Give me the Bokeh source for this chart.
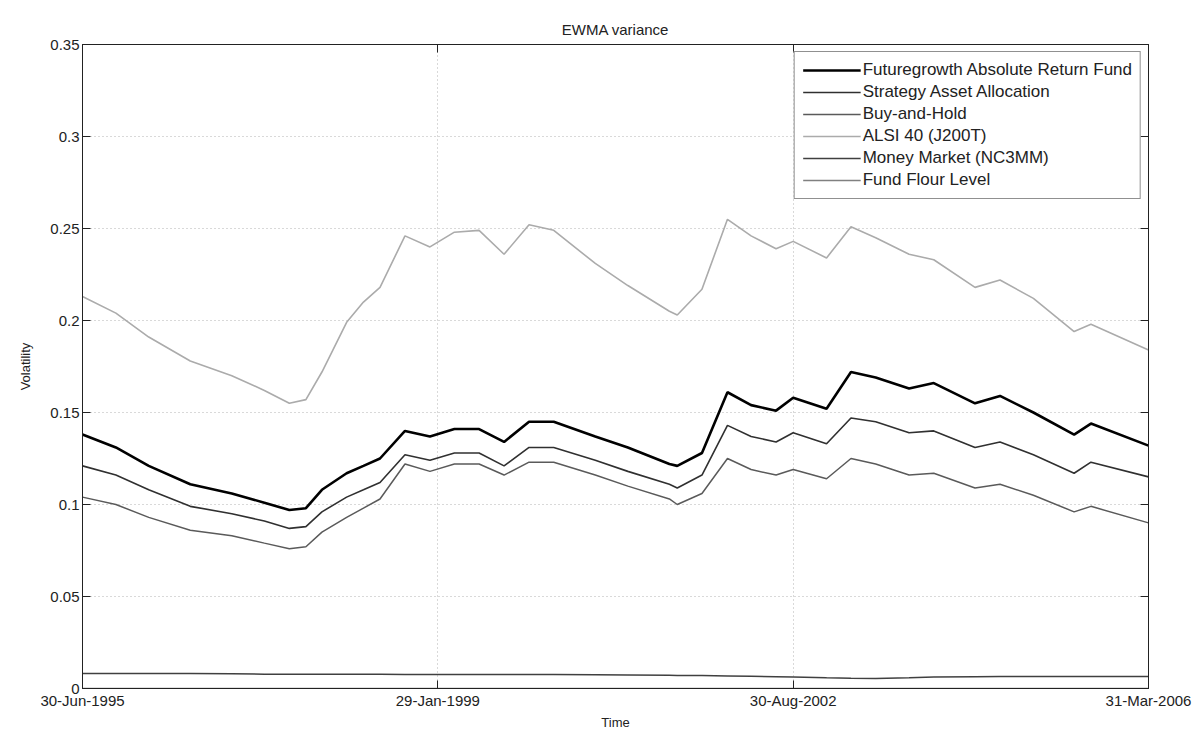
import pandas as pd
from bokeh.plotting import figure
from bokeh.models import (FixedTicker, CustomJSTickFormatter, LinearAxis, DatetimeAxis,
                          Legend, LegendItem, Range1d)
from bokeh.embed import file_html
from bokeh.resources import INLINE

# ---------------- data ----------------
dates = ["1995-06-30", "1995-10-31", "1996-02-29", "1996-07-31", "1996-12-31", "1997-04-30",
         "1997-07-31", "1997-09-30", "1997-11-28", "1998-02-27", "1998-04-30", "1998-06-30",
         "1998-09-30", "1998-12-31", "1999-03-31", "1999-06-30", "1999-09-30", "1999-12-31",
         "2000-03-31", "2000-08-31", "2000-12-29", "2001-05-31", "2001-06-29", "2001-09-28",
         "2001-12-31", "2002-03-28", "2002-06-28", "2002-08-30", "2002-12-31", "2003-03-31",
         "2003-06-30", "2003-10-31", "2004-01-30", "2004-06-30", "2004-09-30", "2005-01-31",
         "2005-06-30", "2005-08-31", "2006-03-31"]

futuregrowth = [0.138, 0.131, 0.121, 0.111, 0.106, 0.101, 0.097, 0.098, 0.108, 0.117, 0.121, 0.125,
                0.140, 0.137, 0.141, 0.141, 0.134, 0.145, 0.145, 0.137, 0.131, 0.122, 0.121, 0.128,
                0.161, 0.154, 0.151, 0.158, 0.152, 0.172, 0.169, 0.163, 0.166, 0.155, 0.159, 0.150,
                0.138, 0.144, 0.132]
strategy = [0.121, 0.116, 0.108, 0.099, 0.095, 0.091, 0.087, 0.088, 0.096, 0.104, 0.108, 0.112,
            0.127, 0.124, 0.128, 0.128, 0.121, 0.131, 0.131, 0.124, 0.118, 0.111, 0.109, 0.116,
            0.143, 0.137, 0.134, 0.139, 0.133, 0.147, 0.145, 0.139, 0.140, 0.131, 0.134, 0.127,
            0.117, 0.123, 0.115]
buy_hold = [0.104, 0.100, 0.093, 0.086, 0.083, 0.079, 0.076, 0.077, 0.085, 0.093, 0.098, 0.103,
            0.122, 0.118, 0.122, 0.122, 0.116, 0.123, 0.123, 0.116, 0.110, 0.103, 0.100, 0.106,
            0.125, 0.119, 0.116, 0.119, 0.114, 0.125, 0.122, 0.116, 0.117, 0.109, 0.111, 0.105,
            0.096, 0.099, 0.090]
alsi40 = [0.213, 0.204, 0.191, 0.178, 0.170, 0.162, 0.155, 0.157, 0.172, 0.199, 0.210, 0.218,
          0.246, 0.240, 0.248, 0.249, 0.236, 0.252, 0.249, 0.231, 0.219, 0.205, 0.203, 0.217,
          0.255, 0.246, 0.239, 0.243, 0.234, 0.251, 0.245, 0.236, 0.233, 0.218, 0.222, 0.212,
          0.194, 0.198, 0.184]
money_market = [0.0082, 0.0082, 0.0081, 0.0081, 0.0080, 0.0078, 0.0077, 0.0077, 0.0077, 0.0077,
                0.0077, 0.0077, 0.0076, 0.0076, 0.0076, 0.0076, 0.0076, 0.0076, 0.0076, 0.0075,
                0.0074, 0.0072, 0.0071, 0.0070, 0.0068, 0.0066, 0.0064, 0.0062, 0.0058, 0.0056,
                0.0055, 0.0058, 0.0062, 0.0064, 0.0065, 0.0065, 0.0065, 0.0065, 0.0065]
fund_floor = [0.0] * len(dates)

series_names = ["Futuregrowth Absolute Return Fund", "Strategy Asset Allocation", "Buy-and-Hold",
                "ALSI 40 (J200T)", "Money Market (NC3MM)", "Fund Flour Level"]

x_tick_dates = ["1995-06-30", "1999-01-29", "2002-08-30", "2006-03-31"]
x_tick_labels = ["30-Jun-1995", "29-Jan-1999", "30-Aug-2002", "31-Mar-2006"]
y_ticks = [0, 0.05, 0.1, 0.15, 0.2, 0.25, 0.3, 0.35]

# ---------------- figure ----------------
FONT = "Liberation Sans"
INK = "#222222"
x = pd.to_datetime(dates)
x_ticks = [float(pd.Timestamp(d).value // 10**6) for d in x_tick_dates]

p = figure(width=1196, height=732, x_axis_type="datetime", output_backend="svg",
           toolbar_location=None,
           x_range=Range1d(pd.Timestamp(x_tick_dates[0]), pd.Timestamp(x_tick_dates[-1])),
           y_range=Range1d(0, 0.35),
           min_border_left=82, min_border_right=48, min_border_top=44, min_border_bottom=40)

p.title.text = "EWMA variance"
p.title.align = "center"
p.title.text_font = FONT
p.title.text_font_size = "15px"
p.title.text_font_style = "normal"
p.title.text_color = INK
p.title.standoff = 13

p.outline_line_color = INK
p.background_fill_color = "white"

# x axis
p.xaxis.ticker = FixedTicker(ticks=x_ticks)
p.xaxis.major_label_overrides = {t: l for t, l in zip(x_ticks, x_tick_labels)}
p.xaxis.axis_label = "Time"
# y axis
p.yaxis.ticker = FixedTicker(ticks=y_ticks)
p.yaxis.formatter = CustomJSTickFormatter(code="return String(Math.round(tick*100)/100);")
p.yaxis.axis_label = "Volatility"

for ax in p.xaxis + p.yaxis:
    ax.major_tick_in = 8
    ax.major_tick_out = 0
    ax.minor_tick_line_color = None
    ax.axis_line_color = INK
    ax.major_tick_line_color = INK
    ax.major_label_text_font = FONT
    ax.major_label_text_font_size = "15px"
    ax.major_label_text_color = INK
    ax.axis_label_text_font = FONT
    ax.axis_label_text_font_size = "13px"
    ax.axis_label_text_font_style = "normal"
    ax.axis_label_text_color = INK
    ax.major_label_standoff = 3
    ax.axis_label_standoff = 3
p.yaxis.axis_label_standoff = 14

# mirrored ticks (box)
blank = CustomJSTickFormatter(code="return '';")
right_ax = LinearAxis(ticker=FixedTicker(ticks=y_ticks), formatter=blank,
                      major_tick_in=8, major_tick_out=0, minor_tick_line_color=None,
                      axis_line_color=INK, major_tick_line_color=INK,
                      major_label_text_font_size="0px", major_label_standoff=0)
p.add_layout(right_ax, "right")
top_ax = DatetimeAxis(ticker=FixedTicker(ticks=x_ticks), formatter=blank,
                      major_tick_in=8, major_tick_out=0, minor_tick_line_color=None,
                      axis_line_color=INK, major_tick_line_color=INK,
                      major_label_text_font_size="0px", major_label_standoff=0)
p.add_layout(top_ax, "above")

# grid
p.grid.grid_line_color = "#a0a0a0"
p.grid.grid_line_dash = "1 3"
p.grid.grid_line_alpha = 0.8

# lines
styles = [
    (futuregrowth, "#000000", 2.6),
    (strategy, "#303030", 1.6),
    (buy_hold, "#5a5a5a", 1.5),
    (alsi40, "#ababab", 1.6),
    (money_market, "#404040", 1.5),
    (fund_floor, "#808080", 1.5),
]
renderers = []
for vals, col, w in styles:
    r = p.line(x, vals, line_color=col, line_width=w)
    renderers.append(r)

legend = Legend(items=[LegendItem(label=n, renderers=[r]) for n, r in zip(series_names, renderers)],
                location="top_right")
legend.border_line_color = INK
legend.border_line_width = 1
legend.background_fill_alpha = 1
legend.label_text_font = FONT
legend.label_text_font_size = "17px"
legend.label_text_color = INK
legend.glyph_width = 58
legend.glyph_height = 20
legend.label_height = 20
legend.spacing = 2
legend.padding = 8
legend.margin = 7
legend.label_standoff = 2
p.add_layout(legend, "center")

open("out.html", "w").write(file_html(p, INLINE))
